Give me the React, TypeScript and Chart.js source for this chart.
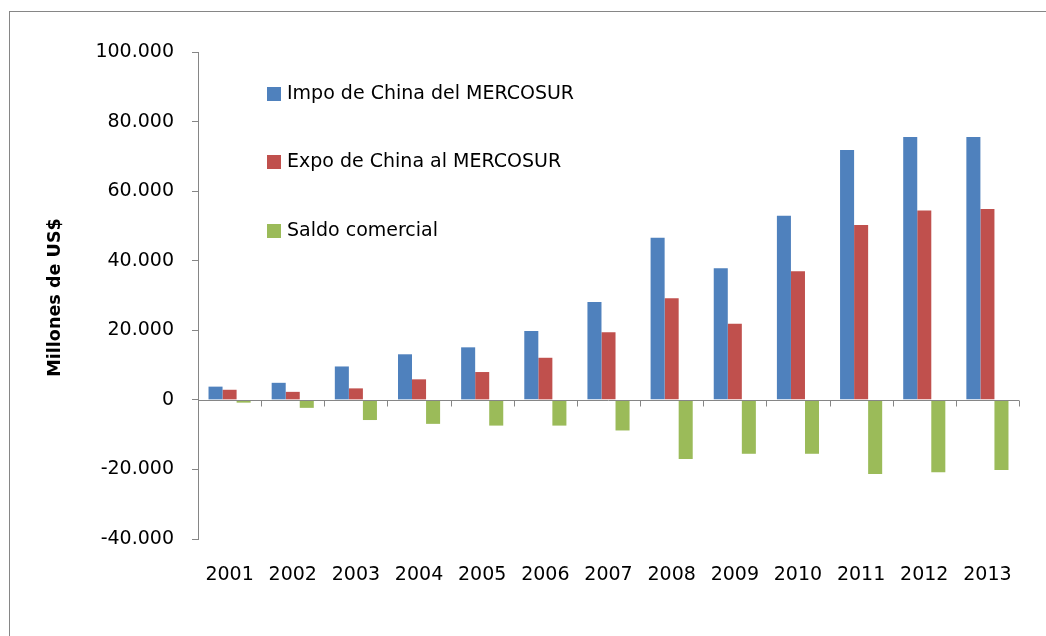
import React, { useEffect, useRef } from "react";
import { Chart, registerables } from "chart.js";

Chart.register(...registerables);

const YEARS = ["2001", "2002", "2003", "2004", "2005", "2006", "2007", "2008", "2009", "2010", "2011", "2012", "2013"];
const IMPO = [3800, 4900, 9600, 13100, 15100, 19800, 28100, 46600, 37800, 52900, 71800, 75600, 75600];
const EXPO = [2900, 2300, 3300, 5900, 8000, 12100, 19400, 29200, 21900, 37000, 50300, 54400, 54900];
const SALDO = [-800, -2300, -5800, -6900, -7400, -7400, -8800, -17000, -15500, -15500, -21300, -20800, -20200];
const SERIES_LABELS = ["Impo de China del MERCOSUR", "Expo de China al MERCOSUR", "Saldo comercial"];
const SERIES_COLORS = ["#4F81BD", "#C0504D", "#9BBB59"];
const Y_TITLE = "Millones de US$";

const FONT = "'DejaVu Sans', sans-serif";
const AXIS_GRAY = "#868686";

function fmt(v: number): string {
  const s = String(Math.abs(v)).replace(/\B(?=(\d{3})+(?!\d))/g, ".");
  return (v < 0 ? "-" : "") + s;
}

const extrasPlugin = {
  id: "extras",
  afterDatasetsDraw(chart: any) {
    const { ctx, chartArea, scales } = chart;
    const y = scales.y;
    const y0 = Math.round(y.getPixelForValue(0)) + 0.5;
    ctx.save();
    // zero axis line
    ctx.strokeStyle = AXIS_GRAY;
    ctx.lineWidth = 1;
    ctx.beginPath();
    ctx.moveTo(chartArea.left, y0);
    ctx.lineTo(chartArea.right, y0);
    // category boundary ticks
    const n = YEARS.length;
    const w = (chartArea.right - chartArea.left) / n;
    for (let i = 1; i <= n; i++) {
      const px = Math.round(chartArea.left + i * w) + 0.5;
      ctx.moveTo(px, y0);
      ctx.lineTo(px, y0 + 6);
    }
    ctx.stroke();

    // legend
    const legendX = 267;
    const legendY = [94, 162, 231];
    ctx.font = `19px ${FONT}`;
    ctx.textBaseline = "middle";
    ctx.textAlign = "left";
    chart.data.datasets.forEach((ds: any, i: number) => {
      ctx.fillStyle = ds.backgroundColor;
      ctx.fillRect(legendX, legendY[i] - 7, 14, 14);
      ctx.fillStyle = "#000";
      ctx.fillText(ds.label, legendX + 20, legendY[i]);
    });

    // y title
    ctx.translate(55, (chartArea.top + chartArea.bottom) / 2 + 2);
    ctx.rotate(-Math.PI / 2);
    ctx.font = `bold 17.6px ${FONT}`;
    ctx.textAlign = "center";
    ctx.textBaseline = "middle";
    ctx.fillStyle = "#000";
    ctx.fillText(Y_TITLE, 0, 0);
    ctx.restore();
  },
};

export default function App() {
  const ref = useRef<HTMLCanvasElement>(null);

  useEffect(() => {
    document.body.style.margin = "0";
    const canvas = ref.current!;
    const chart = new Chart(canvas, {
      type: "bar",
      data: {
        labels: YEARS,
        datasets: [
          { label: SERIES_LABELS[0], data: IMPO, backgroundColor: SERIES_COLORS[0] },
          { label: SERIES_LABELS[1], data: EXPO, backgroundColor: SERIES_COLORS[1] },
          { label: SERIES_LABELS[2], data: SALDO, backgroundColor: SERIES_COLORS[2] },
        ],
      },
      options: {
        responsive: false,
        animation: false,
        layout: { padding: { left: 0, right: 27, top: 52, bottom: 0 } },
        datasets: {
          bar: { barPercentage: 1, categoryPercentage: 0.667 },
        },
        plugins: {
          legend: { display: false },
          tooltip: { enabled: false },
          title: { display: false },
        },
        scales: {
          x: {
            grid: { display: false, drawTicks: false },
            border: { display: false },
            ticks: {
              color: "#000",
              font: { family: FONT, size: 19 },
              padding: 25,
              maxRotation: 0,
              autoSkip: false,
            },
            afterFit: (s: any) => {
              s.height = 97;
            },
          },
          y: {
            min: -40000,
            max: 100000,
            ticks: {
              stepSize: 20000,
              color: "#000",
              font: { family: FONT, size: 19 },
              padding: 18,
              callback: (v: any) => fmt(Number(v)),
            },
            grid: {
              color: "transparent",
              tickColor: AXIS_GRAY,
              tickLength: 6,
              drawOnChartArea: true,
            },
            border: { display: true, color: AXIS_GRAY, width: 1 },
            afterFit: (s: any) => {
              s.width = 198;
            },
          },
        },
      },
      plugins: [extrasPlugin],
    });
    return () => chart.destroy();
  }, []);

  return (
    <div
      style={{
        position: "fixed",
        left: 0,
        top: 0,
        width: 1046,
        height: 636,
        overflow: "hidden",
        background: "#fff",
      }}
    >
      <div
        style={{
          position: "absolute",
          left: 9,
          top: 11,
          width: 2000,
          height: 2000,
          border: `1px solid ${AXIS_GRAY}`,
        }}
      />
      <canvas ref={ref} width={1046} height={636} style={{ position: "absolute", left: 0, top: 0 }} />
    </div>
  );
}
